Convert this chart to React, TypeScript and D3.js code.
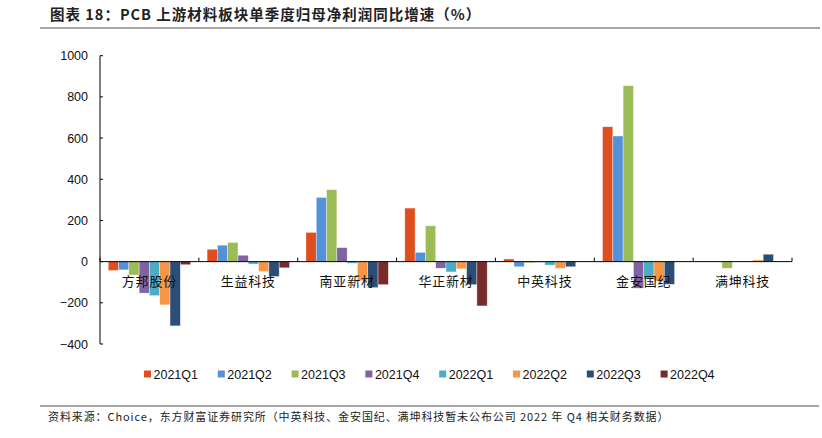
import React, { useEffect } from "react"
import { scaleBand, scaleLinear } from "d3"

const categories = ["方邦股份", "生益科技", "南亚新材", "华正新材", "中英科技", "金安国纪", "满坤科技"]
const seriesNames = ["2021Q1", "2021Q2", "2021Q3", "2021Q4", "2022Q1", "2022Q2", "2022Q3", "2022Q4"]
const seriesColors = ["#DF4E1F", "#5590D8", "#9BBB59", "#8064A2", "#4BACC6", "#F79646", "#2C4D75", "#772C2A"]

const q2021Q1 = [-43, 60, 142, 260, 13, 655, null]
const q2021Q2 = [-40, 80, 312, 45, -25, 610, null]
const q2021Q3 = [-65, 93, 349, 174, -6, 854, -32]
const q2021Q4 = [-153, 31, 68, -32, -3, -129, null]
const q2022Q1 = [-165, -12, -8, -50, -17, -85, null]
const q2022Q2 = [-210, -48, -92, -35, -32, -95, 8]
const q2022Q3 = [-312, -72, -126, -112, -25, -110, 36]
const q2022Q4 = [-15, -30, -112, -215, null, null, null]
const seriesValues: (number | null)[][] = [q2021Q1, q2021Q2, q2021Q3, q2021Q4, q2022Q1, q2022Q2, q2022Q3, q2022Q4]

const yTicks = [-400, -200, 0, 200, 400, 600, 800, 1000]

const W = 822
const H = 438
const plot = { left: 100, right: 792, top: 55.7, bottom: 344 }

export default function App() {
  useEffect(() => {
    document.body.style.margin = "0"
  }, [])

  const x0 = scaleBand().domain(categories).range([plot.left, plot.right]).paddingInner(0).paddingOuter(0)
  const x1 = scaleBand().domain(seriesNames).range([0, x0.bandwidth()]).paddingInner(0).paddingOuter(0.8)
  const y = scaleLinear().domain([-400, 1000]).range([plot.bottom, plot.top])
  const zero = y(0)

  const sans = "'Liberation Sans', Arial, sans-serif"
  const cjk = "'Noto Sans CJK SC', sans-serif"

  return (
    <svg width={W} height={H} style={{ display: "block", background: "#fff" }}>
      {/* 标题 */}
      <text x={50} y={20} fontFamily={cjk} fontWeight="bold" fontSize={14.5} letterSpacing={1} fill="#222">
        图表 18：PCB 上游材料板块单季度归母净利润同比增速（%）
      </text>
      <line x1={40} x2={820} y1={28} y2={28} stroke="#888" strokeWidth={1.6} />

      {/* 柱子 */}
      {categories.map((c, ci) => (
        <g key={c}>
          {seriesNames.map((s, si) => {
            const v = seriesValues[si][ci]
            if (v === null) return null
            const yv = y(v)
            return (
              <rect
                key={s}
                x={x0(c)! + x1(s)!}
                y={Math.min(yv, zero)}
                width={x1.bandwidth()}
                height={Math.abs(yv - zero)}
                fill={seriesColors[si]}
                stroke="#fff"
                strokeOpacity={0.6}
                strokeWidth={0.6}
              />
            )
          })}
        </g>
      ))}

      {/* Y 轴 */}
      <line x1={plot.left} x2={plot.left} y1={plot.top} y2={plot.bottom} stroke="#000" strokeWidth={1} />
      {yTicks.map((t) => (
        <g key={t}>
          <line x1={plot.left} x2={plot.left + 3} y1={y(t)} y2={y(t)} stroke="#000" />
          <text x={88} y={y(t)} dy="0.36em" textAnchor="end" fontFamily={sans} fontSize={12.5} fill="#111">
            {t < 0 ? `−${Math.abs(t)}` : t}
          </text>
        </g>
      ))}

      {/* X 轴 */}
      <line x1={plot.left} x2={plot.right} y1={zero} y2={zero} stroke="#000" strokeWidth={1} />
      {[...categories.map((c) => x0(c)!), plot.right].map((xv, i) => (
        <line key={i} x1={xv} x2={xv} y1={zero - 4} y2={zero} stroke="#000" />
      ))}
      {categories.map((c) => (
        <text
          key={c}
          x={x0(c)! + x0.bandwidth() / 2}
          y={281}
          dy="0.36em"
          textAnchor="middle"
          fontFamily={cjk}
          fontSize={13}
          letterSpacing={0.8}
          fill="#111"
        >
          {c}
        </text>
      ))}

      {/* 图例 */}
      {seriesNames.map((s, i) => {
        const lx = 144 + i * 73.8
        return (
          <g key={s}>
            <rect x={lx} y={370.5} width={7} height={7} fill={seriesColors[i]} />
            <text x={lx + 9.5} y={374} dy="0.36em" fontFamily={sans} fontSize={12.5} fill="#111">
              {s}
            </text>
          </g>
        )
      })}

      {/* 来源 */}
      <line x1={40} x2={819} y1={406} y2={406} stroke="#888" strokeWidth={1.4} />
      <text x={48} y={417} dy="0.36em" fontFamily={cjk} fontSize={11} letterSpacing={0.9} fill="#222">
        资料来源：Choice，东方财富证券研究所（中英科技、金安国纪、满坤科技暂未公布公司 2022 年 Q4 相关财务数据）
      </text>
    </svg>
  )
}
